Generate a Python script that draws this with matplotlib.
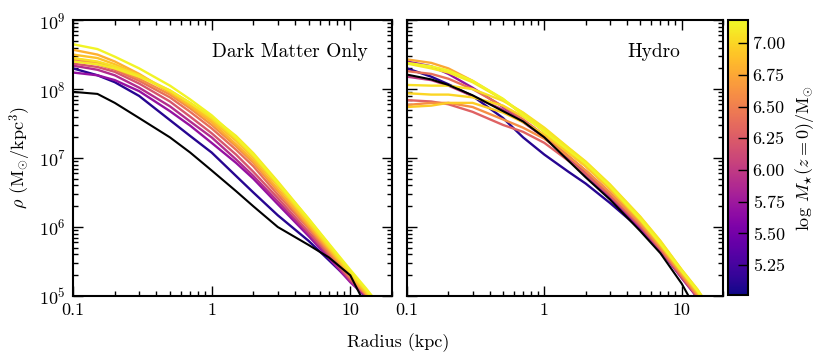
import numpy as np
import matplotlib
matplotlib.use("Agg")
import matplotlib.pyplot as plt
from matplotlib.ticker import FixedLocator, FixedFormatter, LogLocator, NullFormatter
from matplotlib.colors import Normalize
from matplotlib.cm import ScalarMappable

plt.rcParams['font.family'] = ['cmr10', 'DejaVu Serif']
plt.rcParams['mathtext.fontset'] = 'cm'
plt.rcParams['axes.formatter.use_mathtext'] = True
plt.rcParams['axes.unicode_minus'] = False

# ---------------- data ----------------
radius_kpc = [0.1, 0.15, 0.2, 0.3, 0.5, 0.7, 1.0, 1.5, 2.0, 3.0, 5.0, 7.0, 10.0, 13.0, 16.0]

# Dark matter only: log10 stellar mass (colour) and log10 density profiles
dmo_logmstar = [5.10, 5.70, 5.90, 6.20, 6.40, 6.60, 6.80, 6.90, 7.05, 7.10, 7.15]
dmo_p1 = [8.30, 8.20, 8.10, 7.90, 7.55, 7.32, 7.08, 6.74, 6.50, 6.17, 5.80, 5.52, 5.22, 4.98, 4.72]
dmo_p2 = [8.24, 8.20, 8.13, 7.97, 7.68, 7.47, 7.22, 6.93, 6.70, 6.33, 5.87, 5.55, 5.20, 4.99, 4.74]
dmo_p3 = [8.34, 8.28, 8.20, 8.02, 7.75, 7.53, 7.30, 6.98, 6.74, 6.37, 5.90, 5.57, 5.22, 5.00, 4.75]
dmo_p4 = [8.37, 8.32, 8.25, 8.08, 7.82, 7.60, 7.36, 7.05, 6.80, 6.42, 5.93, 5.60, 5.24, 5.01, 4.76]
dmo_p5 = [8.42, 8.36, 8.28, 8.12, 7.88, 7.67, 7.43, 7.12, 6.88, 6.47, 5.98, 5.62, 5.26, 5.02, 4.77]
dmo_p6 = [8.45, 8.38, 8.30, 8.15, 7.92, 7.72, 7.48, 7.17, 6.93, 6.52, 6.00, 5.65, 5.28, 5.03, 4.78]
dmo_p7 = [8.57, 8.50, 8.40, 8.22, 7.95, 7.75, 7.52, 7.20, 6.96, 6.55, 6.03, 5.68, 5.30, 5.04, 4.79]
dmo_p8 = [8.50, 8.45, 8.36, 8.20, 7.96, 7.77, 7.55, 7.25, 7.00, 6.60, 6.06, 5.70, 5.32, 5.06, 4.81]
dmo_p9 = [8.45, 8.40, 8.33, 8.20, 7.98, 7.80, 7.58, 7.28, 7.03, 6.62, 6.08, 5.72, 5.34, 5.08, 4.83]
dmo_p10 = [8.40, 8.36, 8.30, 8.18, 7.98, 7.80, 7.60, 7.32, 7.07, 6.66, 6.12, 5.75, 5.36, 5.09, 4.85]
dmo_p11 = [8.65, 8.58, 8.47, 8.30, 8.05, 7.85, 7.62, 7.30, 7.05, 6.64, 6.12, 5.76, 5.38, 5.11, 4.88]
dmo_black = [7.96, 7.93, 7.80, 7.58, 7.30, 7.08, 6.82, 6.52, 6.30, 6.00, 5.74, 5.56, 5.30, 4.85, 4.50]

# Hydro
hydro_logmstar = [5.10, 5.70, 6.00, 6.30, 6.40, 6.60, 6.75, 6.95, 7.00, 7.05, 7.10, 7.15]
hyd_p1 = [8.30, 8.18, 8.07, 7.90, 7.58, 7.30, 7.05, 6.80, 6.63, 6.35, 5.97, 5.69, 5.33, 4.97, 4.65]
hyd_p2 = [8.40, 8.33, 8.22, 8.02, 7.74, 7.54, 7.30, 6.98, 6.76, 6.43, 5.98, 5.66, 5.26, 4.98, 4.70]
hyd_p3 = [8.18, 8.13, 8.05, 7.90, 7.70, 7.52, 7.30, 7.00, 6.79, 6.46, 6.00, 5.67, 5.27, 4.98, 4.70]
hyd_p4 = [7.84, 7.82, 7.78, 7.67, 7.48, 7.38, 7.22, 6.96, 6.77, 6.46, 6.02, 5.68, 5.28, 5.00, 4.72]
hyd_p5 = [8.26, 8.22, 8.15, 8.00, 7.75, 7.56, 7.33, 7.03, 6.82, 6.50, 6.04, 5.70, 5.30, 5.00, 4.73]
hyd_p6 = [7.77, 7.80, 7.80, 7.74, 7.56, 7.44, 7.28, 7.02, 6.82, 6.50, 6.05, 5.71, 5.31, 5.02, 4.75]
hyd_p7 = [8.43, 8.38, 8.30, 8.12, 7.85, 7.63, 7.38, 7.09, 6.88, 6.55, 6.08, 5.73, 5.33, 5.04, 4.77]
hyd_p8 = [7.74, 7.76, 7.80, 7.80, 7.66, 7.52, 7.34, 7.07, 6.88, 6.56, 6.10, 5.75, 5.35, 5.06, 4.79]
hyd_p9 = [7.94, 7.92, 7.92, 7.88, 7.76, 7.60, 7.40, 7.12, 6.92, 6.60, 6.13, 5.78, 5.37, 5.08, 4.80]
hyd_p10 = [8.06, 8.05, 8.05, 8.00, 7.83, 7.66, 7.44, 7.15, 6.95, 6.62, 6.15, 5.80, 5.38, 5.09, 4.82]
hyd_p11 = [8.37, 8.30, 8.24, 8.10, 7.85, 7.65, 7.42, 7.14, 6.94, 6.61, 6.14, 5.79, 5.38, 5.10, 4.83]
hyd_p12 = [8.38, 8.33, 8.27, 8.12, 7.86, 7.62, 7.38, 7.11, 6.92, 6.59, 6.11, 5.76, 5.36, 5.08, 4.80]
hyd_black = [8.21, 8.14, 8.06, 7.91, 7.68, 7.53, 7.30, 6.96, 6.72, 6.40, 5.94, 5.62, 5.18, 4.77, 4.45]

x_ticks = [0.1, 1, 10]
x_ticklabels = ["0.1", "1", "10"]
cbar_ticks = [5.25, 5.50, 5.75, 6.00, 6.25, 6.50, 6.75, 7.00]
cmin, cmax = 5.015, 7.18

panel_titles = ["Dark Matter Only", "Hydro"]
title_x = [0.925, 0.865]

dmo_profiles = [dmo_p1, dmo_p2, dmo_p3, dmo_p4, dmo_p5, dmo_p6, dmo_p7, dmo_p8, dmo_p9, dmo_p10, dmo_p11]
hyd_profiles = [hyd_p1, hyd_p2, hyd_p3, hyd_p4, hyd_p5, hyd_p6, hyd_p7, hyd_p8, hyd_p9, hyd_p10, hyd_p11, hyd_p12]

# ---------------- figure ----------------
fig = plt.figure(figsize=(8.30, 3.63), dpi=100)
ax1 = fig.add_axes([0.088, 0.1846, 0.3843, 0.760])
ax2 = fig.add_axes([0.4904, 0.1846, 0.3807, 0.760])
cax = fig.add_axes([0.877, 0.1873, 0.024, 0.757])

cmap = plt.get_cmap('plasma')
norm = Normalize(vmin=cmin, vmax=cmax)
r = np.array(radius_kpc)

for ax, profiles, masses, black, title, tx in [
        (ax1, dmo_profiles, dmo_logmstar, dmo_black, panel_titles[0], title_x[0]),
        (ax2, hyd_profiles, hydro_logmstar, hyd_black, panel_titles[1], title_x[1])]:
    for prof, m in zip(profiles, masses):
        ax.plot(r, 10 ** np.array(prof), color=cmap(norm(m)), lw=1.7)
    ax.plot(r, 10 ** np.array(black), color='black', lw=1.5)
    ax.set_xscale('log')
    ax.set_yscale('log')
    ax.set_xlim(0.1, 20)
    ax.set_ylim(1e5, 1e9)
    ax.xaxis.set_major_locator(FixedLocator(x_ticks))
    ax.xaxis.set_major_formatter(FixedFormatter(x_ticklabels))
    ax.xaxis.set_minor_locator(LogLocator(base=10, subs=np.arange(2, 10)))
    ax.xaxis.set_minor_formatter(NullFormatter())
    ax.yaxis.set_major_locator(LogLocator(base=10, numticks=10))
    ax.yaxis.set_minor_locator(LogLocator(base=10, subs=np.arange(2, 10), numticks=20))
    ax.yaxis.set_minor_formatter(NullFormatter())
    ax.tick_params(which='both', direction='in', top=True, right=True, labelsize=13, width=1.0)
    ax.tick_params(which='major', length=7, pad=5)
    ax.tick_params(which='minor', length=3.5)
    for s in ax.spines.values():
        s.set_linewidth(1.5)
    ax.text(tx, 0.885, title, transform=ax.transAxes, ha='right', va='center', fontsize=14)

ax2.tick_params(labelleft=False)
ax1.set_ylabel(r'$\rho$ ($\mathrm{M}_{\odot}/\mathrm{kpc}^3$)', fontsize=13, labelpad=4)
fig.text(0.48, 0.055, 'Radius (kpc)', ha='center', va='center', fontsize=13)

sm = ScalarMappable(norm=norm, cmap=cmap)
cb = fig.colorbar(sm, cax=cax)
cb.set_ticks(cbar_ticks)
cb.set_ticklabels(["%.2f" % t for t in cbar_ticks])
cb.ax.tick_params(direction='in', length=7, width=1.0, labelsize=13)
cb.outline.set_linewidth(1.5)
cb.set_label(r'log $M_{\star}(z=0)/\mathrm{M}_{\odot}$', fontsize=13, labelpad=6)

fig.savefig('out.png', dpi=100)
